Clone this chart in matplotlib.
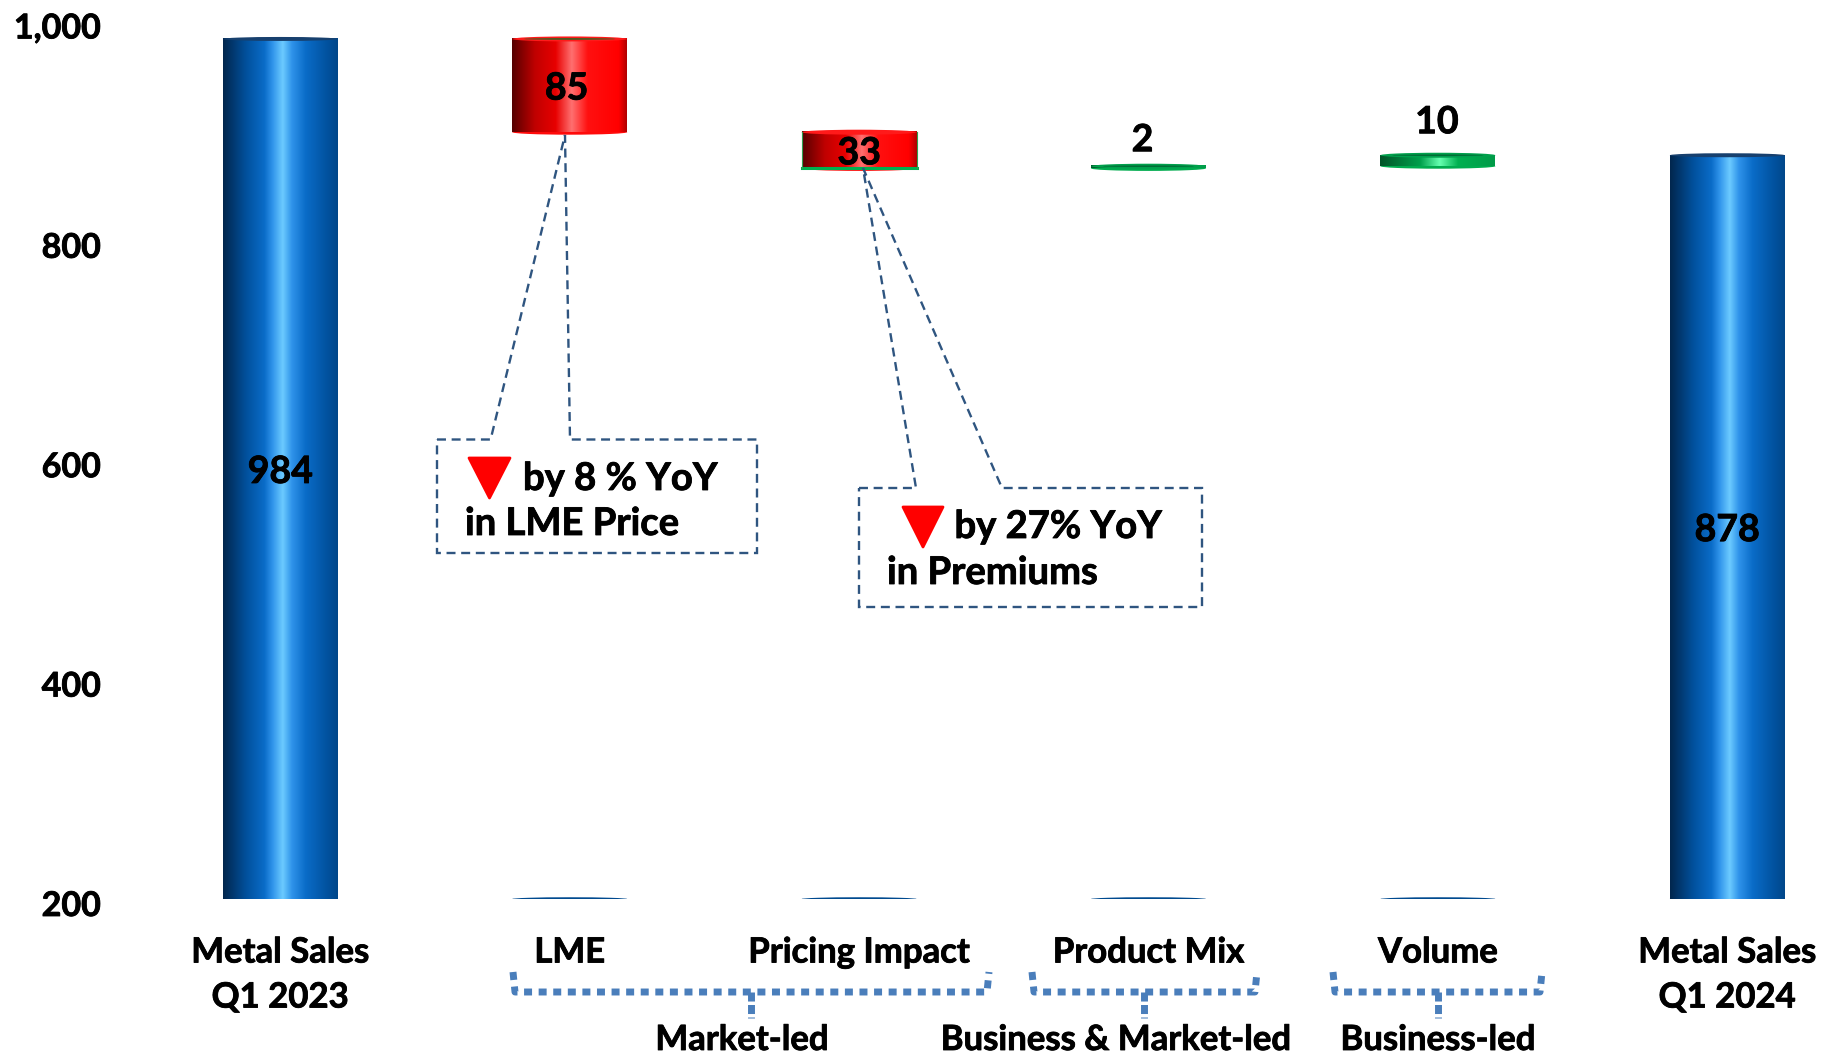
import numpy as np
import matplotlib
matplotlib.use('Agg')
from matplotlib import pyplot as plt
from matplotlib.colors import LinearSegmentedColormap
from matplotlib.patches import Ellipse, Polygon
from matplotlib.transforms import Affine2D, ScaledTranslation
import matplotlib.patheffects as pe

W, H = 1823, 1053
categories = ['Metal Sales\nQ1 2023', 'LME', 'Pricing Impact', 'Product Mix', 'Volume', 'Metal Sales\nQ1 2024']
values = [984, 85, 33, 2, 10, 878]
kinds = ['total', 'down', 'down', 'up', 'up', 'total']
y_ticks = [200, 400, 600, 800, 1000]
y_tick_labels = ['200', '400', '600', '800', '1,000']
groups = ['Market-led', 'Business & Market-led', 'Business-led']

plt.rcParams['font.family'] = ['Lato', 'DejaVu Sans']
plt.rcParams['font.weight'] = 'bold'
FS = 25
FS_VAL = 27
heavy = [pe.withStroke(linewidth=0.6, foreground='black')]

blue = LinearSegmentedColormap.from_list('blue', [(0, '#02264d'), (.2, '#01509c'), (.36, '#0a6cc8'), (.43, '#2f93ea'),
                                                  (.52, '#6ccbff'), (.6, '#2f93ea'), (.72, '#0a6cc8'), (.92, '#01509c'), (1, '#02478a')])
red = LinearSegmentedColormap.from_list('red', [(0, '#560000'), (.2, '#c00000'), (.38, '#e80000'), (.52, '#ff7070'),
                                                (.66, '#ff1010'), (.93, '#ff0000'), (1, '#b00000')])
green = LinearSegmentedColormap.from_list('green', [(0, '#005428'), (.35, '#00a04c'), (.52, '#66ffb0'), (.68, '#00b050'), (1, '#009a48')])
cmaps = {'total': blue, 'down': red, 'up': green}

fig = plt.figure(figsize=(W / 100, H / 100), dpi=100)
px_per_unit = 1.097
top_px = 899 - 800 * px_per_unit
ax = fig.add_axes([112 / W, (H - 899) / H, (W - 112) / W, (899 - top_px) / H])
ax.set_facecolor('none')
for s in ax.spines.values():
    s.set_visible(False)

# pixel coordinates for callouts and brackets
px = Affine2D().scale(1 / W, -1 / H).translate(0, 1) + fig.transFigure

xs = np.arange(len(values))
bar_w = 115 / 289.4
ell_h = 5 / px_per_unit
grad = np.linspace(0, 1, 256).reshape(1, -1)

# running level of the waterfall
level = 0
for x, val, kind in zip(xs, values, kinds):
    if kind == 'total':
        lo, hi = 200, val
        level = val
    elif kind == 'down':
        lo, hi = level - val, level
        level = lo
    else:
        lo, hi = level, level + val
        level = hi
    cmap = cmaps[kind]

    # bottom rim, body and top of the cylinder
    ax.add_patch(Ellipse((x, lo), bar_w, ell_h, color=cmap(0.75), lw=0, zorder=2))
    ax.imshow(grad, cmap=cmap, extent=(x - bar_w / 2, x + bar_w / 2, lo, hi), aspect='auto', zorder=3, interpolation='bilinear')
    if kind == 'total':
        ax.add_patch(Ellipse((x, hi), bar_w, ell_h * .8, color='#17406e', lw=0, zorder=4))
    elif kind == 'down':
        ax.add_patch(Ellipse((x, hi), bar_w, ell_h, color='#ff1a1a', lw=0, zorder=4))
        if val > 50:
            ax.add_patch(Ellipse((x, hi), bar_w * .8, ell_h * .35, color='#3f5f20', lw=0, zorder=5))
        else:
            ax.plot([x - bar_w / 2, x + bar_w / 2], [lo, lo], color='#00b050', lw=2.2, zorder=5)
            ax.plot([x - bar_w / 2, x - bar_w / 2], [lo, hi], color='#2fa050', lw=.8, zorder=5)
            ax.plot([x + bar_w / 2, x + bar_w / 2], [lo, hi], color='#2fa050', lw=.8, zorder=5)
    else:
        ax.add_patch(Ellipse((x, hi), bar_w, ell_h, color='#00a04c', lw=0, zorder=4))
        ax.add_patch(Ellipse((x, hi), bar_w * .8, ell_h * .3, color='#006b35', lw=0, zorder=5))

    # flat base of the invisible offset series
    if kind != 'total':
        ax.add_patch(Ellipse((x, 200), bar_w, 3.5 / px_per_unit, color='#004a8f', lw=0, zorder=2))

    # value labels
    if kind == 'up':
        off = (-6, 26) if val < 5 else (-1, 33)
        ax.annotate(str(val), (x, hi), xytext=off, textcoords='offset pixels', ha='center', va='center',
                    fontsize=FS_VAL, color='black', zorder=8, path_effects=heavy)
    else:
        off = (-3, -3) if val == 85 else (0, -3)
        ax.annotate(str(val), (x, (lo + hi) / 2), xytext=off, textcoords='offset pixels', ha='center', va='center',
                    fontsize=FS_VAL, color='black', zorder=8, path_effects=heavy)

ax.set_xlim((112 - 280.3) / 289.4, (W - 280.3) / 289.4)
ax.set_ylim(200, 1000)
ax.set_xticks(xs)
ax.set_xticklabels(categories, fontsize=FS, linespacing=1.5, path_effects=heavy)
ax.set_yticks(y_ticks)
ax.set_yticklabels(y_tick_labels, fontsize=24.5, path_effects=heavy)
ax.tick_params(axis='both', length=0)
ax.tick_params(axis='x', pad=27)
ax.tick_params(axis='y', pad=8)
shift = ScaledTranslation(0, -4 / 100, fig.dpi_scale_trans)
for lab in ax.get_yticklabels():
    lab.set_transform(lab.get_transform() + shift)

# dashed callouts
navy = '#2f5580'
box1 = [(437, 439.5), (490.6, 439.5), (565, 135), (570, 439.5), (757, 439.5), (757, 553), (437, 553)]
box2 = [(859, 488), (916, 488), (863, 168), (1002, 488), (1202, 488), (1202, 607), (859, 607)]
for pts in (box1, box2):
    fig.add_artist(Polygon(pts, closed=True, fill=False, ec=navy, lw=1.7, ls=(0, (3.8, 2.4)), transform=px, zorder=6))

for tri in ([(469, 458), (510, 458), (489.5, 498)], [(903, 507), (943, 507), (923, 547)]):
    fig.add_artist(Polygon(tri, closed=True, fc='#ff0000', ec='#ff0000', lw=2, joinstyle='round', transform=px, zorder=7))

callout_text = [(523, 479, 'by 8 % YoY'), (465, 524, 'in LME Price'),
                (954.5, 527, 'by 27% YoY'), (887, 573, 'in Premiums')]
for tx, ty, s in callout_text:
    fig.text(tx, ty, s, transform=px, fontsize=27.5, ha='left', va='center', color='black', path_effects=heavy)

# dotted brackets under the categories
steel = '#4a7ebb'
brackets = [(513, 989, 751, 742), (1032, 1257, 1144, 1116), (1333, 1542, 1438, 1438)]
for (l, r, c, tx), name in zip(brackets, groups):
    ax.plot([l, l + 2, r - 2, r], [972, 992, 992, 972], transform=px, clip_on=False, color=steel,
            lw=5, ls=(0, (1.15, .95)), dash_capstyle='butt', zorder=6)
    ax.plot([c, c], [992, 1018], transform=px, clip_on=False, color=steel, lw=5, ls=(0, (1.3, .5)),
            dash_capstyle='butt', zorder=6)
    fig.text(tx, 1040, name, transform=px, fontsize=FS, ha='center', va='center', color='black', path_effects=heavy)

fig.savefig('out.png', dpi=100, facecolor='white')
